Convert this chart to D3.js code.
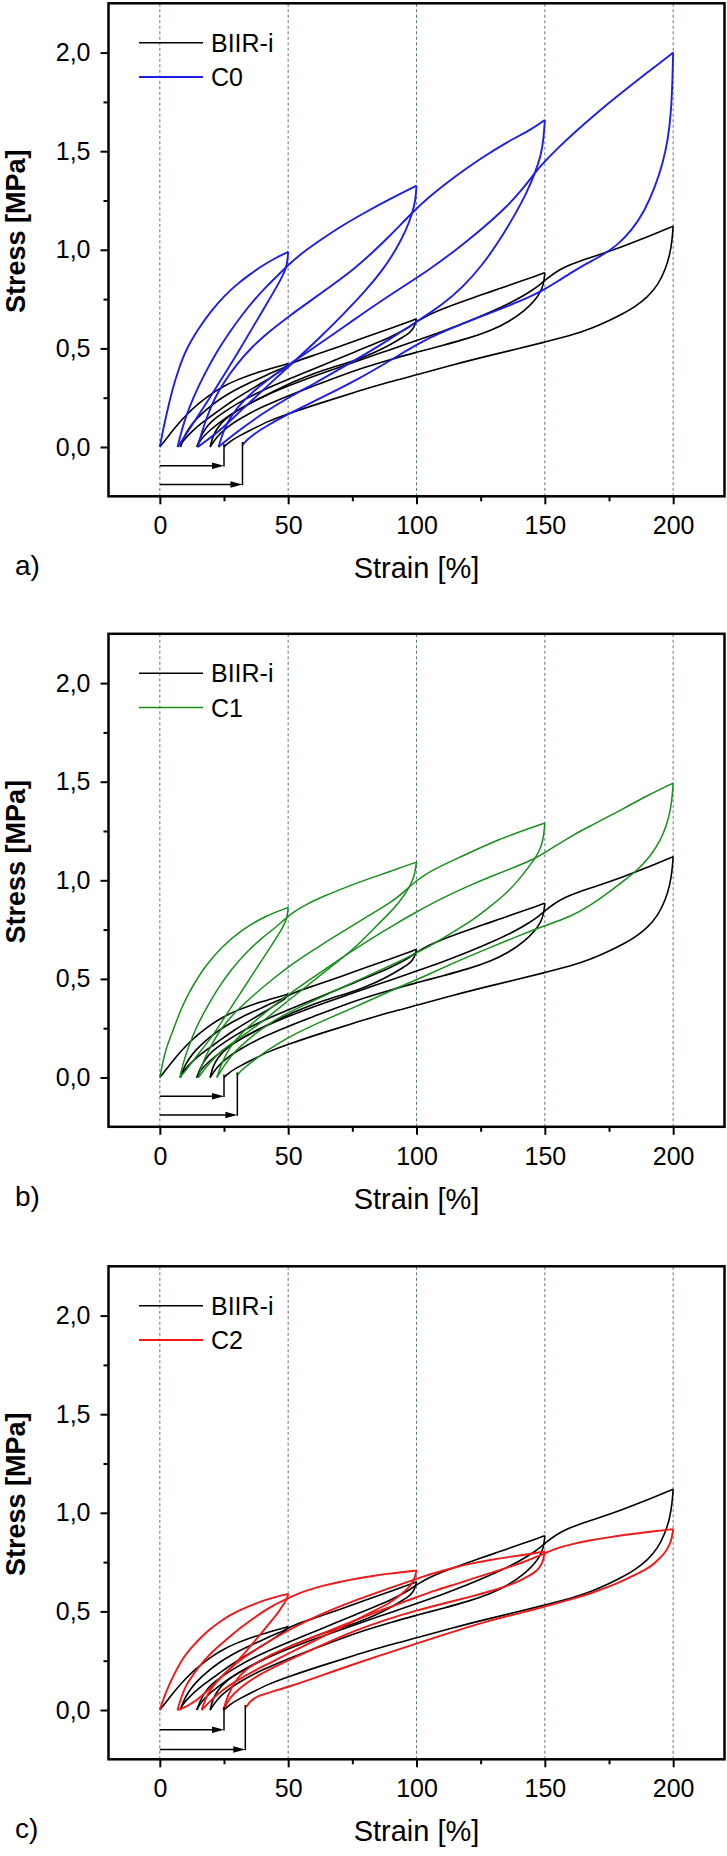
<!DOCTYPE html>
<html><head><meta charset="utf-8">
<script src="https://cdn.jsdelivr.net/npm/d3@7"></script>
<style>
body{margin:0;background:#fff}
svg{display:block}
text{font-family:"Liberation Sans",Arial,Helvetica,sans-serif;fill:#000}
</style>
</head><body>
<svg id="chart" width="727" height="1856"></svg>
<script>
// ---------- axis / tick data ----------
const xTicks = [0, 50, 100, 150, 200];
const xMinorTicks = [25, 75, 125, 175];
const yTicks = [0, 0.5, 1.0, 1.5, 2.0];
const yTickLabels = ["0,0", "0,5", "1,0", "1,5", "2,0"];
const yMinorTicks = [0.25, 0.75, 1.25, 1.75];
const gridStrains = [0, 50, 100, 150, 200];
const panelLabels = ["a)", "b)", "c)"];
const seriesNames = ["C0", "C1", "C2"];

// ---------- BIIR-i (reference, black) : [strain %, stress MPa] ----------
const biirLoad1 = [[0,0],[3,0.05],[6,0.1],[10,0.16],[15,0.22],[20,0.27],[25,0.31],[30,0.34],[35,0.365],[40,0.385],[45,0.405],[50,0.423]];
const biirUnload1 = [[50,0.423],[49,0.4],[46.8,0.385],[43,0.35],[39,0.32],[34,0.28],[28.6,0.237],[24,0.195],[19.5,0.152],[15,0.11],[11,0.06],[8.4,0.02],[8,0]];
const biirLoad2 = [[8,0],[9,0.04],[11,0.09],[14,0.14],[18,0.19],[23,0.24],[28,0.28],[34,0.32],[40,0.355],[45,0.385],[48,0.4],[52,0.43],[60,0.465],[70,0.51],[80,0.556],[90,0.602],[100,0.65]];
const biirUnload2 = [[100,0.65],[99.3,0.61],[97.5,0.58],[94.8,0.558],[90,0.52],[84,0.48],[76.5,0.44],[70,0.415],[63.4,0.389],[57,0.356],[50.3,0.321],[44,0.28],[37.3,0.237],[30,0.185],[24.2,0.135],[19,0.08],[16,0.04],[14.4,0]];
const biirLoad3 = [[14.4,0],[15.5,0.04],[17.5,0.09],[20,0.13],[24.2,0.17],[30,0.22],[37.3,0.27],[44,0.31],[50.3,0.345],[57,0.38],[63.4,0.415],[70,0.45],[76.5,0.485],[83,0.52],[89.5,0.555],[94,0.585],[97.4,0.61],[100,0.635],[105,0.672],[110,0.7],[115.7,0.728],[122,0.757],[128.8,0.787],[135,0.815],[141.8,0.846],[146,0.865],[150,0.884]];
const biirUnload3 = [[150,0.884],[149.6,0.83],[148.5,0.79],[146,0.74],[142,0.69],[136,0.635],[129,0.59],[120,0.55],[110,0.515],[100,0.48],[90,0.445],[80,0.405],[70,0.36],[60,0.31],[50,0.26],[40,0.205],[32,0.15],[26,0.1],[22,0.05],[19.6,0]];
const biirLoad4 = [[19.6,0],[20.5,0.05],[22.5,0.1],[26,0.15],[32,0.2],[40,0.255],[50,0.31],[60,0.36],[70,0.405],[80,0.45],[90,0.495],[100,0.54],[110,0.585],[120,0.635],[130,0.69],[138,0.74],[144,0.785],[148,0.822],[151,0.855],[154,0.885],[158,0.915],[163,0.94],[170,0.97],[180,1.015],[190,1.065],[200,1.12]];
const biirUnload4 = [[200,1.12],[199.6,1.05],[198.8,0.98],[197,0.9],[194,0.82],[190,0.76],[185,0.71],[181,0.68],[175,0.64],[168,0.6],[160,0.565],[150,0.532],[140,0.5],[128.8,0.465],[115,0.42],[100,0.365],[90,0.333],[76.5,0.28],[63,0.225],[50.3,0.17],[42,0.13],[36,0.09],[30,0.05],[27,0.025],[25,0]];

// ---------- C0 (blue) ----------
const c0Load1 = [[0,0],[1,0.07],[2.5,0.16],[5,0.3],[7.5,0.4],[10,0.49],[15,0.6],[20,0.69],[25,0.765],[30,0.825],[35,0.875],[40,0.92],[45,0.958],[50,0.99]];
const c0Unload1 = [[50,0.99],[49.7,0.94],[49,0.9],[47.5,0.86],[45,0.8],[40,0.69],[35,0.58],[30,0.47],[25,0.365],[20,0.26],[15,0.16],[11,0.08],[8,0.02],[6.9,0]];
const c0Load2 = [[6.9,0],[8,0.06],[10,0.15],[13,0.25],[17,0.36],[22,0.48],[27,0.58],[32,0.67],[37,0.75],[42,0.82],[46,0.87],[49,0.91],[52,0.945],[56,0.99],[62,1.045],[70,1.115],[80,1.19],[90,1.26],[100,1.325]];
const c0Unload2 = [[100,1.325],[99.6,1.25],[98.5,1.19],[96,1.1],[92,1.0],[87,0.9],[80,0.79],[72,0.68],[62,0.55],[52,0.43],[42,0.31],[32,0.19],[24,0.09],[18,0.03],[14.8,0]];
const c0Load3 = [[14.8,0],[16,0.06],[18,0.14],[21,0.24],[25,0.33],[30,0.42],[36,0.51],[43,0.59],[50,0.66],[58,0.735],[65,0.8],[70,0.848],[75,0.897],[82,0.975],[90,1.075],[98.4,1.19],[105,1.27],[115,1.372],[125,1.463],[135,1.545],[145,1.612],[150,1.658]];
const c0Unload3 = [[150,1.658],[149.5,1.56],[148.5,1.48],[146.4,1.396],[143,1.29],[138,1.17],[132,1.04],[125.5,0.92],[118,0.81],[110,0.72],[100,0.635],[90,0.55],[80,0.47],[70,0.395],[60,0.32],[50,0.25],[40,0.17],[32,0.095],[26,0.035],[22.9,0]];
const c0Load4 = [[22.9,0],[24,0.05],[26,0.12],[30,0.2],[36,0.28],[45,0.37],[55,0.46],[65,0.548],[75,0.64],[85,0.73],[95,0.815],[105,0.9],[115,0.995],[125,1.1],[135,1.215],[142,1.318],[146.4,1.396],[150,1.448],[155,1.515],[162,1.6],[168,1.668],[175,1.745],[181,1.808],[190,1.9],[200,2.0]];
const c0Unload4 = [[200,2.0],[199.7,1.85],[199.2,1.7],[198,1.56],[196,1.44],[193,1.32],[189,1.2],[184,1.1],[178,1.02],[172,0.97],[167,0.935],[161,0.89],[155,0.84],[150,0.8],[144.4,0.762],[135,0.712],[128.8,0.68],[115,0.61],[102.6,0.541],[90,0.44],[76.5,0.338],[63,0.25],[50.3,0.169],[42,0.11],[36,0.06],[33,0.025],[32.2,0.005],[32.5,0.025]];

// ---------- C1 (green) ----------
const c1Load1 = [[0,0],[1,0.07],[2.5,0.15],[4.6,0.22],[8,0.34],[11.1,0.426],[15,0.51],[17.6,0.562],[24.2,0.664],[32,0.75],[41.2,0.82],[50,0.862]];
const c1Unload1 = [[50,0.862],[49.7,0.82],[49,0.79],[47,0.74],[44,0.68],[40,0.6],[35,0.5],[30,0.4],[25,0.3],[20,0.2],[15,0.12],[11,0.05],[7.8,0]];
const c1Load2 = [[7.8,0],[9,0.07],[11,0.15],[14,0.25],[18,0.35],[23,0.46],[28,0.55],[34,0.64],[40,0.71],[45,0.76],[48.4,0.8],[52,0.838],[57,0.878],[63.4,0.917],[70,0.952],[76.5,0.985],[83,1.015],[89.5,1.044],[95,1.07],[100,1.092]];
const c1Unload2 = [[100,1.092],[99.2,1.019],[97.4,0.969],[94,0.9],[89.5,0.834],[83,0.75],[76.5,0.664],[70,0.595],[63.4,0.528],[57,0.46],[50.3,0.393],[44,0.325],[37.3,0.258],[30,0.19],[24.2,0.139],[19,0.07],[15,0]];
const c1Load3 = [[15,0],[16.5,0.07],[19,0.14],[24.2,0.258],[30,0.34],[37.3,0.427],[44,0.5],[50.3,0.563],[57,0.622],[63.4,0.677],[70,0.73],[76.5,0.782],[83,0.833],[89.5,0.884],[94,0.928],[98,0.977],[103,1.028],[109,1.07],[115.7,1.11],[122,1.148],[128.8,1.188],[135,1.22],[142,1.255],[150,1.29]];
const c1Unload3 = [[150,1.29],[149.6,1.23],[149,1.19],[147.5,1.14],[145.8,1.104],[141,1.02],[135.3,0.935],[128,0.86],[122.2,0.8],[112,0.72],[102.6,0.647],[92,0.58],[80,0.51],[70,0.45],[60,0.39],[50,0.33],[42,0.27],[35,0.2],[29,0.13],[25,0.06],[22.2,0]];
const c1Load4 = [[22.2,0],[24,0.07],[27,0.15],[32,0.23],[40,0.32],[50,0.42],[60,0.51],[70,0.6],[80,0.685],[90,0.765],[100,0.84],[110,0.91],[120,0.97],[130,1.025],[140,1.075],[145.8,1.108],[150,1.14],[154.9,1.18],[161,1.23],[168,1.277],[175,1.325],[181,1.366],[190,1.43],[200,1.493]];
const c1Unload4 = [[200,1.493],[199.6,1.42],[199,1.36],[197.5,1.28],[195,1.2],[191,1.12],[186,1.05],[181,1.0],[175,0.94],[168,0.875],[160,0.815],[150,0.77],[140,0.72],[128.8,0.66],[115,0.585],[102.6,0.51],[90,0.44],[76.5,0.36],[63,0.285],[50.3,0.207],[42,0.14],[36,0.08],[31,0.03],[30.1,0.005],[30.3,0.025]];

// ---------- C2 (red) ----------
const c2Load1 = [[0,0],[1.2,0.05],[3.3,0.118],[5.5,0.18],[8.5,0.254],[11.5,0.305],[15,0.355],[19,0.405],[24.2,0.457],[30,0.5],[37.3,0.541],[43,0.566],[50,0.589]];
const c2Unload1 = [[50,0.589],[49.5,0.56],[48.4,0.541],[46.5,0.5],[43.8,0.457],[40.5,0.405],[37.3,0.355],[33.5,0.295],[29.4,0.237],[25.5,0.185],[21.6,0.135],[17.5,0.085],[13.7,0.042],[9.5,0.012],[6.9,0]];
const c2Load2 = [[6.9,0],[8,0.05],[9.8,0.118],[13,0.18],[16.3,0.237],[20,0.29],[24.2,0.338],[28,0.38],[32,0.423],[36.5,0.465],[41.2,0.508],[45,0.535],[48.4,0.558],[52,0.58],[57,0.605],[63.4,0.63],[70,0.65],[76.5,0.666],[83,0.68],[89.5,0.692],[95,0.7],[100,0.707]];
const c2Unload2 = [[100,0.707],[99.3,0.668],[98,0.635],[96,0.609],[93,0.575],[89.5,0.541],[83,0.5],[76.5,0.457],[70,0.415],[63.4,0.372],[57,0.33],[50.3,0.288],[44,0.245],[37.3,0.203],[30,0.15],[24.2,0.1],[20,0.05],[16.3,0]];
const c2Load3 = [[16.3,0],[17.5,0.05],[20.3,0.118],[24,0.17],[28.1,0.22],[32,0.26],[37.3,0.305],[44,0.36],[50.3,0.406],[57,0.45],[63.4,0.49],[70,0.525],[76.5,0.558],[83,0.588],[89.5,0.618],[94,0.638],[97.4,0.653],[101,0.67],[107,0.695],[115.7,0.726],[122,0.745],[128.8,0.761],[135,0.774],[141.8,0.787],[146,0.795],[150,0.804]];
const c2Unload3 = [[150,0.804],[149.6,0.775],[149,0.745],[147.8,0.72],[145.8,0.694],[141,0.66],[135.3,0.628],[128,0.6],[122.2,0.578],[112,0.545],[100,0.505],[88,0.458],[76.5,0.405],[64,0.335],[50.3,0.254],[44,0.215],[37.3,0.169],[31,0.11],[27,0.06],[24.8,0]];
const c2Load4 = [[24.8,0],[26,0.06],[29.4,0.152],[33,0.2],[37.3,0.237],[44,0.285],[50.3,0.321],[57,0.355],[63.4,0.389],[70,0.423],[76.5,0.457],[88,0.515],[100,0.572],[107,0.605],[115.7,0.64],[122,0.667],[128.8,0.694],[135,0.72],[141.8,0.75],[147,0.778],[150,0.795],[154.9,0.822],[161,0.843],[168,0.861],[175,0.876],[181,0.888],[190,0.903],[200,0.917]];
const c2Unload4 = [[200,0.917],[199.6,0.885],[199.3,0.863],[198.3,0.83],[196.7,0.795],[194,0.76],[191.5,0.728],[186,0.69],[181,0.66],[175,0.625],[168,0.592],[160,0.56],[150,0.525],[140,0.49],[128.8,0.455],[115,0.4],[100,0.338],[88,0.285],[76.5,0.237],[63,0.175],[50.3,0.118],[43,0.09],[37.3,0.068],[35,0.04],[33.3,0.008],[33.5,0.025]];

// residual-strain arrows: [start strain, end strain, arrow stress, top of vertical]
const arrowsA = [[0, 25, -0.095, 0.015], [0, 32.2, -0.19, 0.025]];
const arrowsB = [[0, 25, -0.095, 0.015], [0, 30.2, -0.19, 0.025]];
const arrowsC = [[0, 25, -0.1, 0.015], [0, 33.3, -0.2, 0.025]];

const biirSegments = [biirLoad1, biirUnload1, biirLoad2, biirUnload2, biirLoad3, biirUnload3, biirLoad4, biirUnload4];
const c0Segments = [c0Load1, c0Unload1, c0Load2, c0Unload2, c0Load3, c0Unload3, c0Load4, c0Unload4];
const c1Segments = [c1Load1, c1Unload1, c1Load2, c1Unload2, c1Load3, c1Unload3, c1Load4, c1Unload4];
const c2Segments = [c2Load1, c2Unload1, c2Load2, c2Unload2, c2Load3, c2Unload3, c2Load4, c2Unload4];

// ---------- drawing ----------
const svg = d3.select("#chart");
const panelTops = [3.3, 633.8, 1266.3];
const plotH = 493;
const colors = ["#1e1ee8", "#16901a", "#f01818"];
const widths = [1.9, 1.5, 1.9];
const compSegments = [c0Segments, c1Segments, c2Segments];
const arrowSets = [arrowsA, arrowsB, arrowsC];

const x = d3.scaleLinear().domain([-20, 220]).range([108.5, 724.5]);

panelLabels.forEach((lab, i) => {
  const top = panelTops[i];
  const y = d3.scaleLinear().domain([-0.25, 2.25]).range([top + plotH, top]);
  const g = svg.append("g");

  // grid
  g.selectAll(".grid").data(gridStrains).join("line")
    .attr("x1", d => x(d)).attr("x2", d => x(d))
    .attr("y1", y(-0.25)).attr("y2", y(2.25))
    .attr("stroke", "#5d7783").attr("stroke-width", 1).attr("stroke-dasharray", "3,2.5");

  const line = d3.line().x(d => x(d[0])).y(d => y(d[1])).curve(d3.curveBasis);

  const clipId = "clip" + i;
  svg.append("clipPath").attr("id", clipId).append("rect")
    .attr("x", x(-20)).attr("y", top).attr("width", x(220) - x(-20)).attr("height", plotH);
  const cg = g.append("g").attr("clip-path", `url(#${clipId})`);

  // reference BIIR-i curves
  cg.selectAll(".b").data(biirSegments).join("path")
    .attr("d", line).attr("fill", "none").attr("stroke", "#000").attr("stroke-width", 1.6)
    .attr("stroke-linejoin", "round");

  // compound curves
  cg.selectAll(".c").data(compSegments[i]).join("path")
    .attr("d", line).attr("fill", "none").attr("stroke", colors[i]).attr("stroke-width", widths[i])
    .attr("stroke-linejoin", "round");

  // arrows
  arrowSets[i].forEach(a => {
    const [s0, s1, sy, stop] = a;
    cg.append("line").attr("x1", x(s0)).attr("x2", x(s1) - 10).attr("y1", y(sy)).attr("y2", y(sy))
      .attr("stroke", "#000").attr("stroke-width", 1.5);
    cg.append("path")
      .attr("d", `M${x(s1)},${y(sy)} L${x(s1) - 12},${y(sy) - 3.2} L${x(s1) - 12},${y(sy) + 3.2} Z`)
      .attr("fill", "#000");
    cg.append("line").attr("x1", x(s1)).attr("x2", x(s1)).attr("y1", y(sy) + 0.7).attr("y2", y(stop))
      .attr("stroke", "#000").attr("stroke-width", 1.5);
  });

  // axes
  const xAxis = d3.axisBottom(x).tickValues(xTicks).tickSize(8).tickPadding(12).tickFormat(d => String(d));
  const xAxisMinor = d3.axisBottom(x).tickValues(xMinorTicks).tickSize(5).tickFormat("");
  const yAxis = d3.axisLeft(y).tickValues(yTicks).tickSize(8).tickPadding(10)
    .tickFormat((d, k) => yTickLabels[k]);
  const yAxisMinor = d3.axisLeft(y).tickValues(yMinorTicks).tickSize(5).tickFormat("");

  [[xAxis, `translate(0,${top + plotH})`], [xAxisMinor, `translate(0,${top + plotH})`],
   [yAxis, `translate(${x(-20)},0)`], [yAxisMinor, `translate(${x(-20)},0)`]].forEach(([ax, tr]) => {
    const ag = g.append("g").attr("transform", tr).call(ax);
    ag.select(".domain").remove();
    ag.selectAll(".tick line").attr("stroke", "#000").attr("stroke-width", 2);
    ag.selectAll(".tick text").style("font-size", "25px").attr("fill", "#000");
  });

  // frame
  g.append("rect").attr("x", x(-20)).attr("y", top).attr("width", x(220) - x(-20)).attr("height", plotH)
    .attr("fill", "none").attr("stroke", "#000").attr("stroke-width", 2.5);

  // axis titles
  g.append("text").attr("x", (x(-20) + x(220)) / 2).attr("y", top + 574.7)
    .attr("text-anchor", "middle").style("font-size", "29px").text("Strain [%]");
  g.append("text").attr("transform", `translate(25,${top + 228}) rotate(-90)`)
    .attr("text-anchor", "middle").style("font-size", "27px").style("font-weight", "bold").text("Stress [MPa]");
  g.append("text").attr("x", 15).attr("y", top + 571.7).style("font-size", "28px").text(lab);

  // legend
  const legend = [["BIIR-i", "#000", 1.6], [seriesNames[i], colors[i], widths[i]]];
  legend.forEach((L, k) => {
    const ly = top + 39.4 + k * 34.3;
    g.append("line").attr("x1", 139).attr("x2", 203).attr("y1", ly).attr("y2", ly)
      .attr("stroke", L[1]).attr("stroke-width", L[2]);
    g.append("text").attr("x", 211).attr("y", ly).attr("dy", "0.36em").style("font-size", "25px").text(L[0]);
  });
});
</script>
</body></html>
